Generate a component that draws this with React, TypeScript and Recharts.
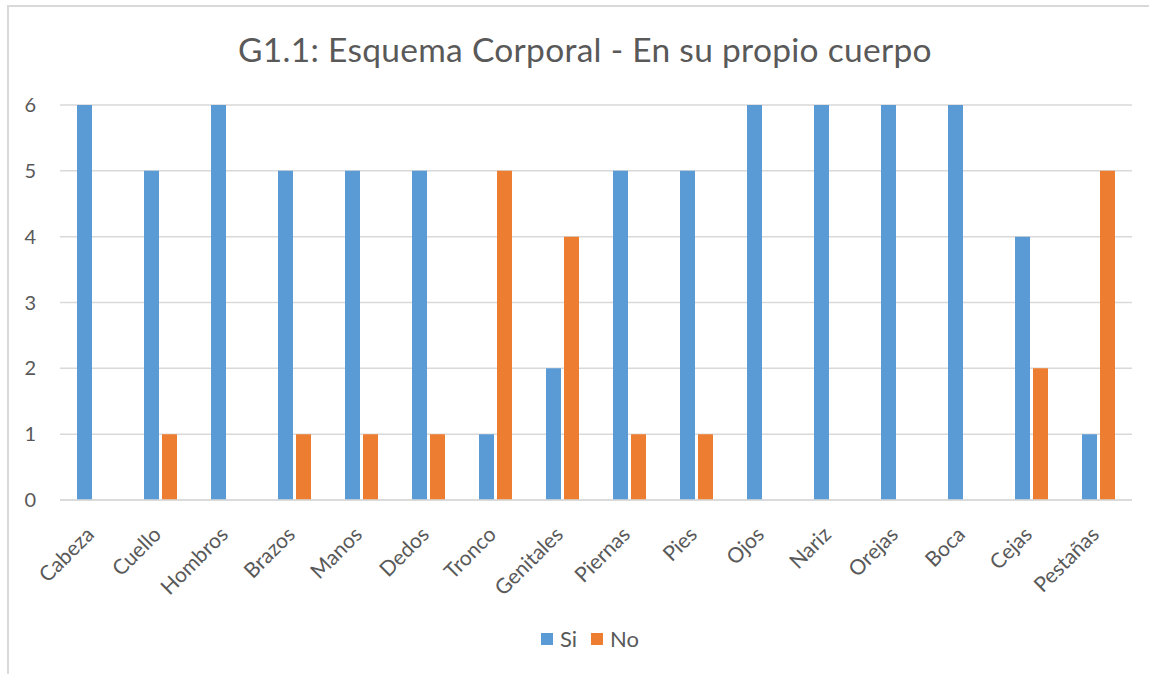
import React from "react"
import { BarChart, Bar, XAxis, YAxis, CartesianGrid, Legend } from "recharts"

const categories = [
  "Cabeza", "Cuello", "Hombros", "Brazos", "Manos", "Dedos", "Tronco", "Genitales",
  "Piernas", "Pies", "Ojos", "Nariz", "Orejas", "Boca", "Cejas", "Pestañas",
]
const siValues = [6, 5, 6, 5, 5, 5, 1, 2, 5, 5, 6, 6, 6, 6, 4, 1]
const noValues = [0, 1, 0, 1, 1, 1, 5, 4, 1, 1, 0, 0, 0, 0, 2, 5]
const yTicks = [0, 1, 2, 3, 4, 5, 6]
const seriesOrder = ["Si", "No"]

const data = categories.map((name, i) => ({ name, Si: siValues[i], No: noValues[i] }))

const FONT = "Lato, 'Open Sans', sans-serif"
const TEXT = "#595959"

function CategoryTick(props: any) {
  const { x, y, payload } = props
  return (
    <g transform={`translate(${x - 8},${y + 18})`}>
      <text transform="rotate(-45)" textAnchor="end" dy={14} fill={TEXT} fontSize={21} fontFamily={FONT}>
        {payload.value}
      </text>
    </g>
  )
}

// legend: Si first, then No, slightly right of centre like the original
function LegendContent(props: any) {
  const items = [...(props.payload || [])].sort(
    (a: any, b: any) => seriesOrder.indexOf(a.value) - seriesOrder.indexOf(b.value)
  )
  return (
    <div style={{ display: "flex", justifyContent: "center", paddingLeft: 62, fontFamily: FONT, fontSize: 22, color: TEXT }}>
      {items.map((item: any) => (
        <div key={item.value} style={{ display: "flex", alignItems: "center", marginRight: 14 }}>
          <span style={{ display: "inline-block", width: 12, height: 12, background: item.color, marginRight: 7 }} />
          <span>{item.value}</span>
        </div>
      ))}
    </div>
  )
}

export default function App() {
  return (
    <div style={{ position: "absolute", left: 0, top: 0, width: 1149, height: 674, background: "#fff", overflow: "hidden" }}>
      <div
        style={{
          position: "absolute",
          left: 7,
          top: 5,
          width: 1160,
          height: 680,
          borderTop: "2px solid #d9d9d9",
          borderLeft: "2px solid #d9d9d9",
        }}
      />
      <div
        style={{
          position: "absolute",
          left: 0,
          width: 1170,
          top: 29,
          textAlign: "center",
          fontFamily: FONT,
          fontSize: 33.5,
          color: TEXT,
          letterSpacing: 0.3,
        }}
      >
        G1.1: Esquema Corporal - En su propio cuerpo
      </div>
      <div style={{ position: "absolute", left: 0, top: 0 }}>
        <BarChart
          width={1149}
          height={674}
          data={data}
          margin={{ top: 105, right: 17, bottom: 22, left: 0 }}
          barCategoryGap={17}
          barGap={3}
        >
          <CartesianGrid vertical={false} stroke="#d9d9d9" strokeWidth={1.5} />
          <XAxis
            dataKey="name"
            interval={0}
            tick={<CategoryTick />}
            tickLine={false}
            axisLine={{ stroke: "#d9d9d9", strokeWidth: 1.5 }}
            height={125}
          />
          <YAxis
            domain={[0, 6]}
            ticks={yTicks}
            width={60}
            axisLine={false}
            tickLine={false}
            tickSize={0}
            tickMargin={24}
            tick={{ fill: TEXT, fontSize: 20, fontFamily: FONT }}
          />
          <Legend verticalAlign="bottom" content={<LegendContent />} />
          <Bar dataKey="Si" fill="#5b9bd5" isAnimationActive={false} />
          <Bar dataKey="No" fill="#ed7d31" isAnimationActive={false} />
        </BarChart>
      </div>
    </div>
  )
}
